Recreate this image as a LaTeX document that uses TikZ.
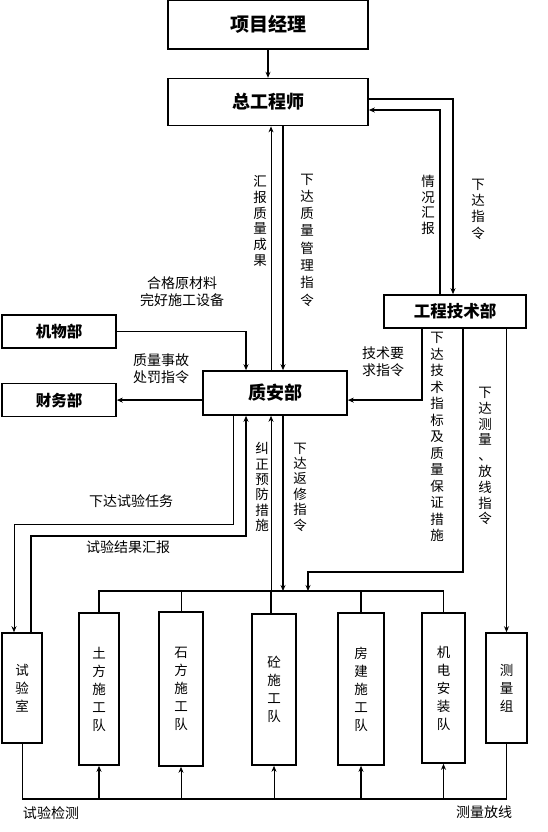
\documentclass[tikz,border=0pt]{standalone}
\usepackage{fontspec}
\setmainfont{Noto Sans CJK SC}
\usetikzlibrary{arrows.meta,positioning}

\begin{document}
\begin{tikzpicture}[
    x=1pt, y=-1pt,
    box/.style={draw, line width=1.6pt, inner sep=0pt, align=center},
    hd/.style={box, font=\fontsize{#1}{#1}\selectfont\bfseries},
    hd/.default=16,
    team/.style={box, minimum height=152pt, font=\fontsize{13.5}{18}\selectfont},
    lbl/.style={align=center, inner sep=0pt, font=\fontsize{14}{17}\selectfont},
    vlbl/.style={align=center, inner sep=0pt, font=\fontsize{13.5}{#1}\selectfont},
    vlbl/.default=16,
    thk/.style={line width=1.6pt},
    thn/.style={line width=0.8pt},
    arr/.style={-{Stealth[length=6pt,width=5pt]}}
  ]
    \useasboundingbox (0,0) rectangle (547,832);

    \node[hd=19, minimum width=200pt, minimum height=49pt] (xmjl) at (268,24.5) {项目经理};
    \node[hd=18, minimum width=200pt, minimum height=47pt, below=28pt of xmjl] (zgcs) {总工程师};
    \node[hd=16.5, minimum width=142pt, minimum height=33pt] (gcjs) at (455,311.5) {工程技术部};
    \node[hd=15.5, minimum width=114pt, minimum height=33pt] (jwb) at (59,331.5) {机物部};
    \node[hd=15.5, minimum width=114pt, minimum height=33pt, below=34pt of jwb] (cwb) {财务部};
    \node[hd=18, minimum width=144pt, minimum height=44pt] (zab) at (275,393) {质安部};

    \node[team, minimum width=40pt, minimum height=110pt] (sys) at (22,688) {试\\验\\室};
    \node[team, minimum width=40pt] (tf) at (99,689) {土\\方\\施\\工\\队};
    \node[team, minimum width=44pt, minimum height=154pt] (sf) at (181,689) {石\\方\\施\\工\\队};
    \node[team, minimum width=44pt, minimum height=151pt] (tong) at (274,689.5) {砼\\施\\工\\队};
    \node[team, minimum width=46pt] (fj) at (361,689) {房\\建\\施\\工\\队};
    \node[team, minimum width=43pt, minimum height=150pt] (jd) at (443.5,688) {机\\电\\安\\装\\队};
    \node[team, minimum width=41pt, minimum height=110pt] (clz) at (506.5,688) {测\\量\\组};

    \coordinate (c1) at (453,99);
    \coordinate (c2) at (440,110);
    \coordinate (c3) at (271,0);
    \coordinate (c4) at (283,0);
    \coordinate (c5) at (246,0);
    \coordinate (c6) at (422,0);
    \coordinate (c7) at (233,524);
    \coordinate (c8) at (14,0);
    \coordinate (c9) at (31,536);
    \coordinate (c11) at (463,572);
    \coordinate (c12) at (308,0);
    \coordinate (tbar) at (0,591);
    \coordinate (bbar) at (0,799);

    \draw[thk, arr] (xmjl) -- (zgcs);
    \draw[thk, arr] (zgcs.east |- c1) -| (gcjs.north -| c1);
    \draw[thk, arr] (gcjs.north -| c2) |- (zgcs.east |- c2);
    \draw[thn, arr] (zab.north -| c3) -- (zgcs.south -| c3);
    \draw[thk, arr] (zgcs.south -| c4) -- (zab.north -| c4);
    \draw[thk, arr] (jwb.east) -| (zab.north -| c5);
    \draw[thk, arr] (zab.west |- cwb) -- (cwb.east);
    \draw[thk, arr] (gcjs.south -| c6) |- (zab.east |- cwb);
    \draw[thn, arr] (zab.south -| c7) -- (c7) -| (sys.north -| c8);
    \draw[thk, arr] (sys.north -| c9) |- (c5 |- c9) -- (zab.south -| c5);
    \draw[thn, arr] (tbar -| c3) -- (zab.south -| c3);
    \draw[thk, arr] (zab.south -| c4) -- (tbar -| c4);
    \draw[thk, arr] (gcjs.south -| c11) -- (c11) -| (tbar -| c12);
    \draw[thk, arr] (gcjs.south -| clz.north) -- (clz.north);

    \draw[thk] (tf.north) -- (tf.north |- tbar) -| (jd.north);
    \draw[thn] (sf.north |- tbar) -- (sf.north);
    \draw[thk] (tbar -| c3) -- (tong.north -| c3);
    \draw[thk] (fj.north |- tbar) -- (fj.north);

    \draw[thn] (sys.south) -- (sys.south |- bbar);
    \draw[thk] (sys.south |- bbar) -- (clz.south |- bbar);
    \draw[thn] (clz.south |- bbar) -- (clz.south);
    \draw[thk, arr] (tf.south |- bbar) -- (tf.south);
    \draw[thn, arr] (sf.south |- bbar) -- (sf.south);
    \draw[thn, arr] (tong.south |- bbar) -- (tong.south);
    \draw[thk, arr] (fj.south |- bbar) -- (fj.south);
    \draw[thk, arr] (jd.south |- bbar) -- (jd.south);

    \node[vlbl=15.8] (hbzl) at (260,221) {汇\\报\\质\\量\\成\\果};
    \node[vlbl=17.3] (xdzl) at (307,240) {下\\达\\质\\量\\管\\理\\指\\令};
    \node[vlbl=15.7] (qkhb) at (428,205) {情\\况\\汇\\报};
    \node[vlbl=16.3] (xdzr) at (478,209) {下\\达\\指\\令};
    \node[lbl] (hgcl) at (182,292) {合格原材料\\完好施工设备};
    \node[lbl] (zlsg) at (161,369) {质量事故\\处罚指令};
    \node[lbl] (jsyq) at (383,362) {技术要\\求指令};
    \node[vlbl=16.5] (xdjs) at (437,437) {下\\达\\技\\术\\指\\标\\及\\质\\量\\保\\证\\措\\施};
    \node[vlbl=15.8] (xdcl) at (485,456) {下\\达\\测\\量\\、\\放\\线\\指\\令};
    \node[vlbl=15.4] (jzyf) at (262,487) {纠\\正\\预\\防\\措\\施};
    \node[vlbl=15.4] (xdfx) at (300,487) {下\\达\\返\\修\\指\\令};
    \node[lbl] (xdsy) at (131,501) {下达试验任务};
    \node[lbl] (syjg) at (128,547) {试验结果汇报};
    \node[lbl] (syjc) at (51,813) {试验检测};
    \node[lbl] (clfx) at (484,812) {测量放线};
  \end{tikzpicture}
\end{document}
